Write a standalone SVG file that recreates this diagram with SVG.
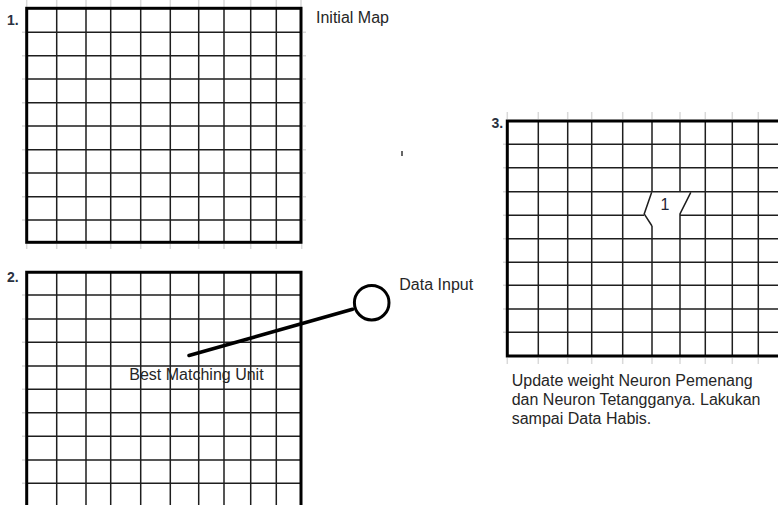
<svg xmlns="http://www.w3.org/2000/svg" width="778" height="505" viewBox="0 0 778 505">
<style>
.bg{fill:#ffffff}
.in{fill:none;stroke:#1e1e1e;stroke-width:1.5}
.bd{fill:none;stroke:#000;stroke-width:3}
.tk{fill:none;stroke:#d9d9d9;stroke-width:1.5}
.lbl{font-family:"Liberation Sans",Arial,sans-serif;font-size:16px;fill:#262626}
.num{font-family:"Liberation Sans",Arial,sans-serif;font-size:14px;font-weight:bold;fill:#2a3140}
.con{fill:none;stroke:#000;stroke-width:3.5;stroke-linecap:round}
</style>
<rect class="bg" x="0" y="0" width="778" height="505"/>

<g id="grid1">
  <path class="tk" d="M26.7 0V7M56.7 0V7M86 0V7M110.7 0V7M140.7 0V7M170.3 0V7M198.7 0V7M224 0V7M250.7 0V7M276.3 0V7M301 0V7
  M22 32.3H25M22 55.7H25M22 79H25M22 102.7H25M22 126H25M22 149.7H25M22 173H25M22 196.7H25M22 220H25
  M303 32.3H306M303 55.7H306M303 79H306M303 102.7H306M303 126H306M303 149.7H306M303 173H306M303 196.7H306M303 220H306
  M26.7 244V249M56.7 244V249M86 244V249M110.7 244V249M140.7 244V249M170.3 244V249M198.7 244V249M224 244V249M250.7 244V249M276.3 244V249M301.7 244V249"/>
  <path class="in" d="M56.7 8.3V242.3M86 8.3V242.3M110.7 8.3V242.3M140.7 8.3V242.3M170.3 8.3V242.3M198.7 8.3V242.3M224 8.3V242.3M250.7 8.3V242.3M276.3 8.3V242.3
  M26.7 32.3H301M26.7 55.7H301M26.7 79H301M26.7 102.7H301M26.7 126H301M26.7 149.7H301M26.7 173H301M26.7 196.7H301M26.7 220H301"/>
  <rect class="bd" x="26.7" y="8.3" width="274.3" height="234"/>
  <text class="num" x="7" y="25">1.</text>
  <text class="lbl" x="316" y="23">Initial Map</text>
</g>

<g id="grid2">
  <path class="tk" d="M22 295H25M22 319H25M22 342.3H25M22 366H25M22 389.3H25M22 412.7H25M22 436.3H25M22 460H25M22 483.3H25"/>
  <path class="in" d="M56.7 272.3V505M86 272.3V505M110.7 272.3V505M140.7 272.3V505M170.3 272.3V505M198.7 272.3V505M224 272.3V505M250.7 272.3V505M276.3 272.3V505
  M26.7 295H301M26.7 319H301M26.7 342.3H301M26.7 366H301M26.7 389.3H301M26.7 412.7H301M26.7 436.3H301M26.7 460H301M26.7 483.3H301"/>
  <path class="bd" d="M26.7 506V272.3H301V506"/>
  <text class="num" x="7" y="282">2.</text>
  <text class="lbl" x="129.3" y="380">Best Matching Unit</text>
</g>

<g id="data-input">
  <circle cx="371.7" cy="302.7" r="17.3" fill="none" stroke="#000" stroke-width="3"/>
  <text class="lbl" x="399.3" y="289.5">Data Input</text>
</g>

<g id="connectors">
  <path class="con" d="M352.5 309.3L189 355.5"/>
</g>

<g id="grid3">
  <path class="tk" d="M507.3 112V119M538.3 112V119M567.7 112V119M591.7 112V119M622.7 112V119M652 112V119M680 112V119M705.3 112V119M732.3 112V119M758.3 112V119
  M503 144.3H506M503 167.7H506M503 191.7H506M503 215.3H506M503 238.7H506M503 262.3H506M503 285.3H506M503 309H506M503 332.3H506
  M507.3 358V364M538.3 358V364M567.7 358V364M591.7 358V364M622.7 358V364M652 358V364M680 358V364M705.3 358V364M732.3 358V364M758.3 358V364"/>
  <path class="in" d="M538.3 121V356M567.7 121V356M591.7 121V356M622.7 121V356M705.3 121V356M732.3 121V356M758.3 121V356
  M652 121V191.7M652 226V356M680 121V191.7M680 213.5V356
  M507.3 144.3H778M507.3 167.7H778M507.3 191.7H778M507.3 238.7H778M507.3 262.3H778M507.3 285.3H778M507.3 309H778M507.3 332.3H778
  M507.3 215.3H644M680 215.3H778"/>
  <path class="in" d="M651.7 192.3L644.2 214L652 226M690.8 192.3L680 213.8"/>
  <path class="bd" d="M779 121H507.3V356H779"/>
  <text x="660.5" y="210" style="font-family:'Liberation Sans',Arial,sans-serif;font-size:16px;fill:#1e2535">1</text>
  <text class="num" x="491.5" y="128">3.</text>
  <text class="lbl"><tspan x="511.7" y="385.5">Update weight Neuron Pemenang</tspan><tspan x="511.7" y="405">dan Neuron Tetangganya. Lakukan</tspan><tspan x="511.7" y="424.3">sampai Data Habis.</tspan></text>
</g>

<path d="M402 151V156" stroke="#333" stroke-width="1.5" fill="none"/>
</svg>
